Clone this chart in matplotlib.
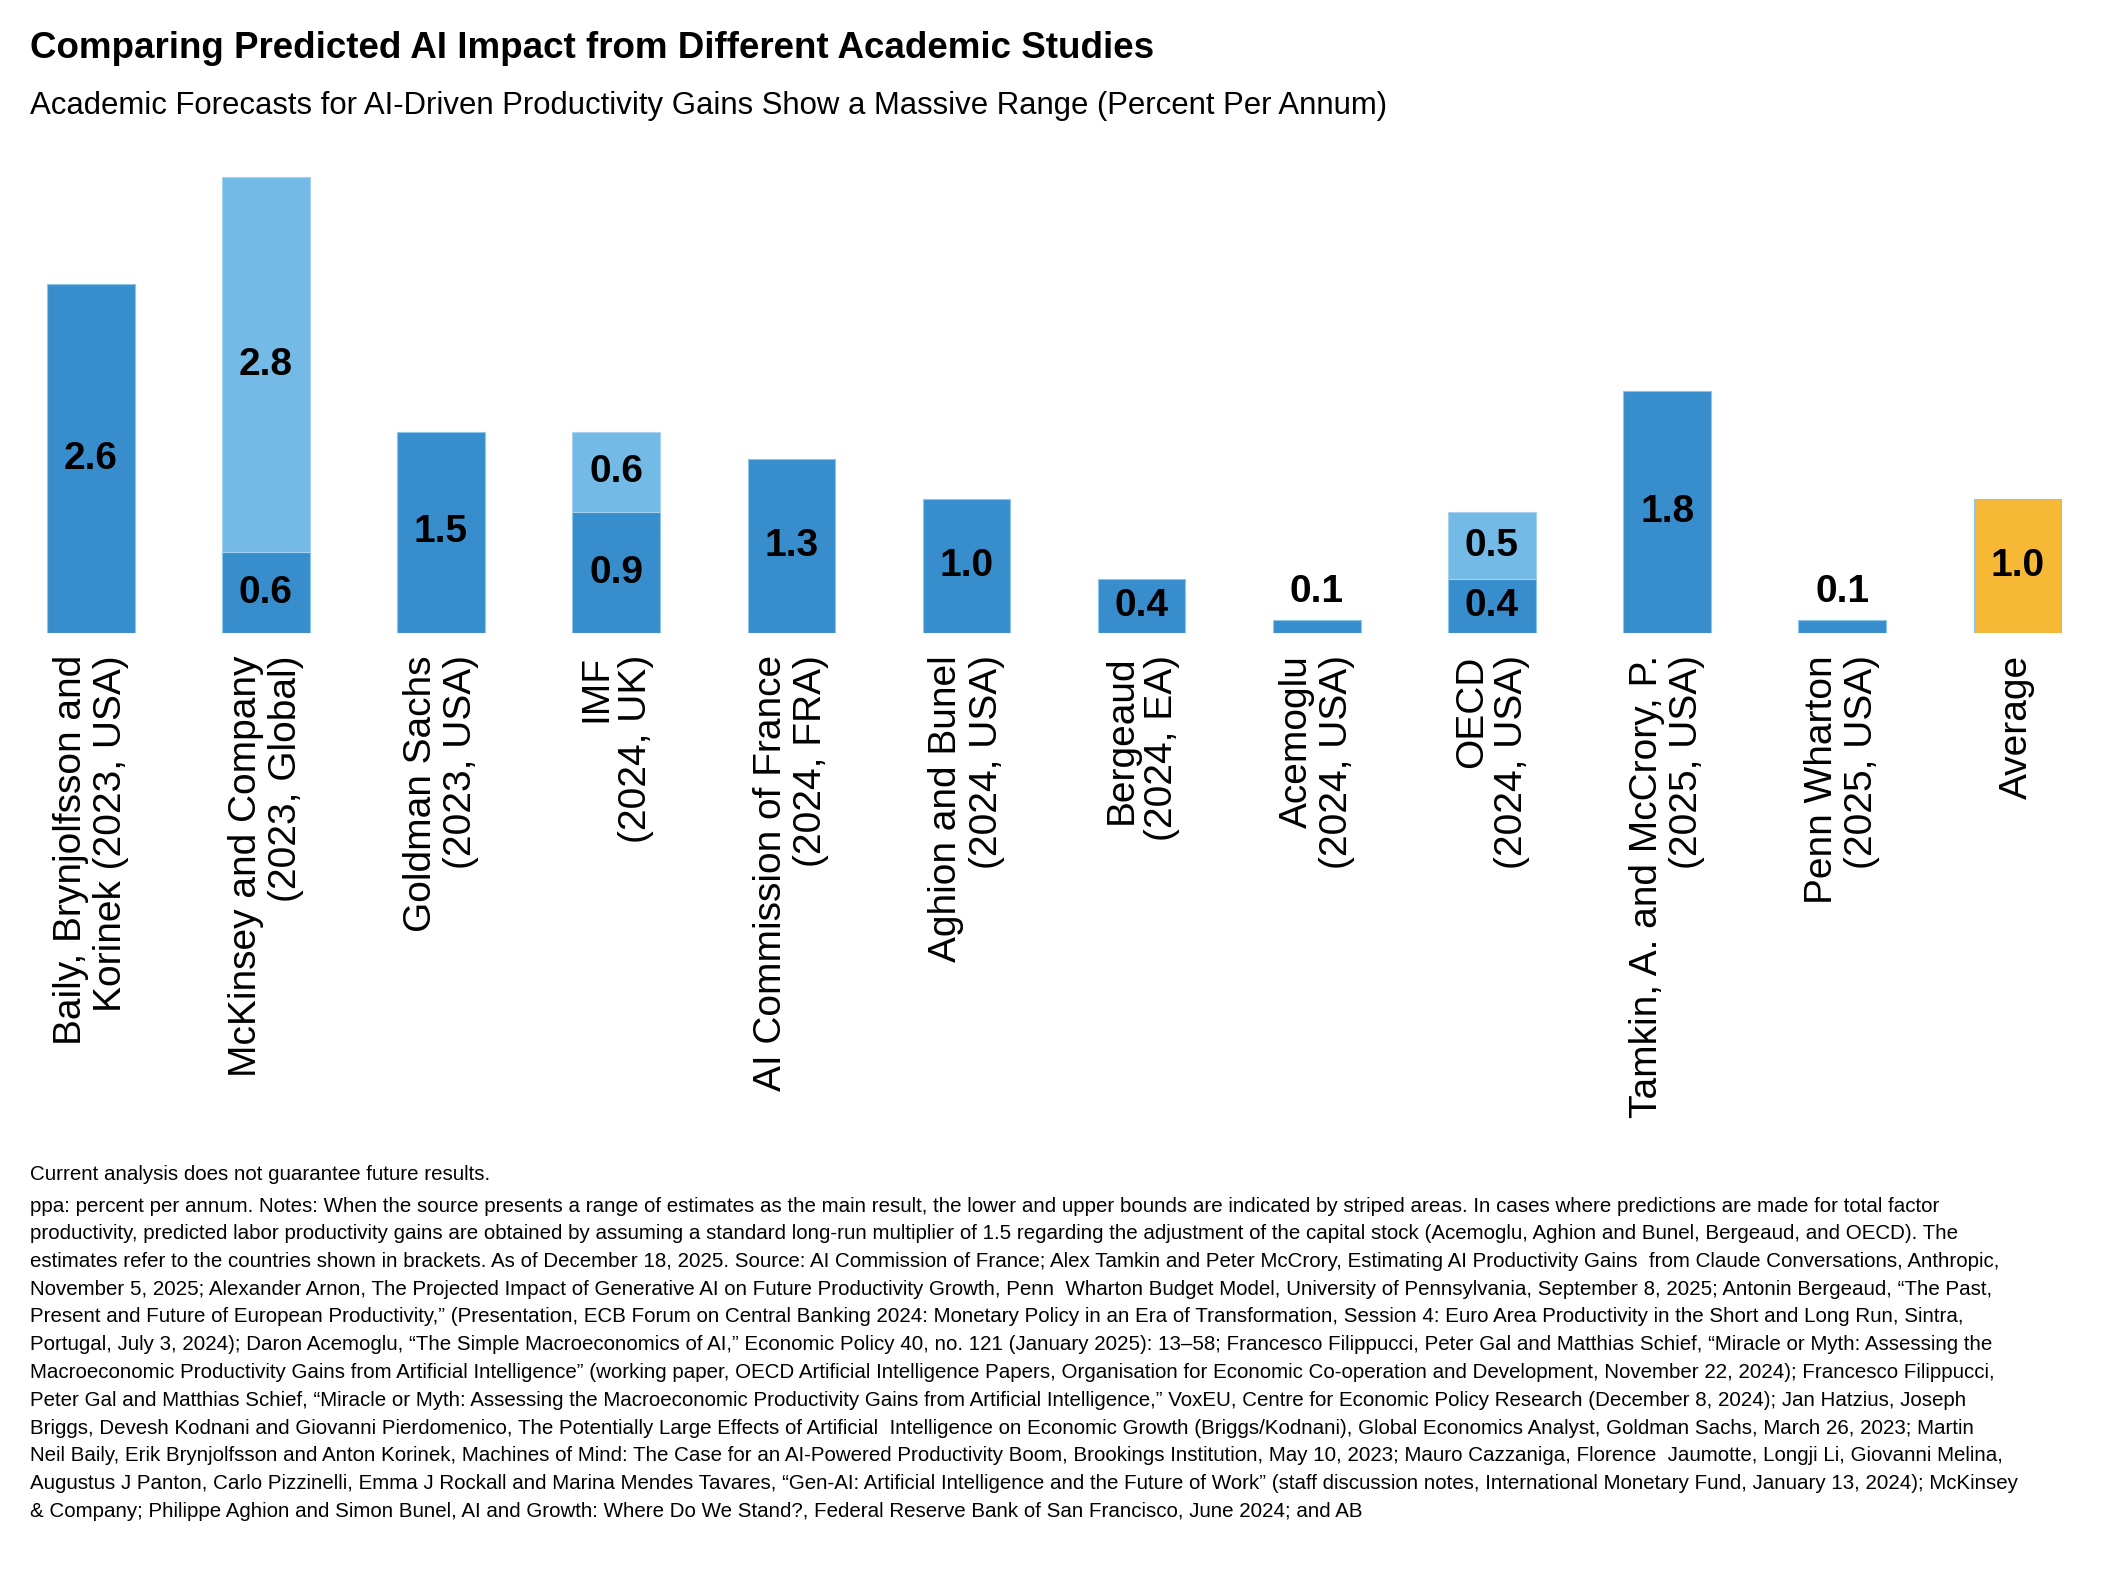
import matplotlib
matplotlib.use('Agg')
import matplotlib.pyplot as plt
import numpy as np

# Studies shown on the x axis (two-line labels)
studies = [
    "Baily, Brynjolfsson and\nKorinek (2023, USA)",
    "McKinsey and Company\n(2023, Global)",
    "Goldman Sachs\n(2023, USA)",
    "IMF\n(2024, UK)",
    "AI Commission of France\n(2024, FRA)",
    "Aghion and Bunel\n(2024, USA)",
    "Bergeaud\n(2024, EA)",
    "Acemoglu\n(2024, USA)",
    "OECD\n(2024, USA)",
    "Tamkin, A. and McCrory, P.\n(2025, USA)",
    "Penn Wharton\n(2025, USA)",
    "Average",
]

# Lower (or only) estimate, and extra range on top where a range is given
lower = [2.6, 0.6, 1.5, 0.9, 1.3, 1.0, 0.4, 0.1, 0.4, 1.8, 0.1, 1.0]
upper = [0.0, 2.8, 0.0, 0.6, 0.0, 0.0, 0.0, 0.0, 0.5, 0.0, 0.0, 0.0]

DARK = '#388dcd'
LIGHT = '#74bae6'
AVG = '#f7b836'

footnote_lines = [
    "Current analysis does not guarantee future results.",
    "ppa: percent per annum. Notes: When the source presents a range of estimates as the main result, the lower and upper bounds are indicated by striped areas. In cases where predictions are made for total factor",
    "productivity, predicted labor productivity gains are obtained by assuming a standard long-run multiplier of 1.5 regarding the adjustment of the capital stock (Acemoglu, Aghion and Bunel, Bergeaud, and OECD). The",
    "estimates refer to the countries shown in brackets. As of December 18, 2025. Source: AI Commission of France; Alex Tamkin and Peter McCrory, Estimating AI Productivity Gains  from Claude Conversations, Anthropic,",
    "November 5, 2025; Alexander Arnon, The Projected Impact of Generative AI on Future Productivity Growth, Penn  Wharton Budget Model, University of Pennsylvania, September 8, 2025; Antonin Bergeaud, \u201cThe Past,",
    "Present and Future of European Productivity,\u201d (Presentation, ECB Forum on Central Banking 2024: Monetary Policy in an Era of Transformation, Session 4: Euro Area Productivity in the Short and Long Run, Sintra,",
    "Portugal, July 3, 2024); Daron Acemoglu, \u201cThe Simple Macroeconomics of AI,\u201d Economic Policy 40, no. 121 (January 2025): 13\u201358; Francesco Filippucci, Peter Gal and Matthias Schief, \u201cMiracle or Myth: Assessing the",
    "Macroeconomic Productivity Gains from Artificial Intelligence\u201d (working paper, OECD Artificial Intelligence Papers, Organisation for Economic Co-operation and Development, November 22, 2024); Francesco Filippucci,",
    "Peter Gal and Matthias Schief, \u201cMiracle or Myth: Assessing the Macroeconomic Productivity Gains from Artificial Intelligence,\u201d VoxEU, Centre for Economic Policy Research (December 8, 2024); Jan Hatzius, Joseph",
    "Briggs, Devesh Kodnani and Giovanni Pierdomenico, The Potentially Large Effects of Artificial  Intelligence on Economic Growth (Briggs/Kodnani), Global Economics Analyst, Goldman Sachs, March 26, 2023; Martin",
    "Neil Baily, Erik Brynjolfsson and Anton Korinek, Machines of Mind: The Case for an AI-Powered Productivity Boom, Brookings Institution, May 10, 2023; Mauro Cazzaniga, Florence  Jaumotte, Longji Li, Giovanni Melina,",
    "Augustus J Panton, Carlo Pizzinelli, Emma J Rockall and Marina Mendes Tavares, \u201cGen-AI: Artificial Intelligence and the Future of Work\u201d (staff discussion notes, International Monetary Fund, January 13, 2024); McKinsey",
    "& Company; Philippe Aghion and Simon Bunel, AI and Growth: Where Do We Stand?, Federal Reserve Bank of San Francisco, June 2024; and AB",
]

plt.rcParams['font.family'] = ['Liberation Sans', 'DejaVu Sans']

W, H = 2106, 1578
fig = plt.figure(figsize=(W / 100, H / 100), dpi=100)

# axes placed so the baseline sits at y=633 px and 1 unit = ~134 px
ax = fig.add_axes([0.0015, 1 - 633 / H, 0.998, 3.5 * 134.2 / H])

x = np.arange(len(studies))
lower = np.array(lower)
upper = np.array(upper)
base_colors = [DARK] * (len(studies) - 1) + [AVG]
ax.bar(x, lower, width=0.5, color=base_colors, edgecolor='#8cc4ea', linewidth=0.8)
has_range = upper > 0
ax.bar(x[has_range], upper[has_range], bottom=lower[has_range], width=0.5,
       color=LIGHT, edgecolor='#a6d2f0', linewidth=0.8)

# value labels: centred in each segment, or just above a very short bar
VAL_FS = 28
for i in range(len(studies)):
    if lower[i] < 0.3:
        ax.annotate(f"{lower[i]:.1f}", (x[i], lower[i]), xytext=(0, 10),
                    textcoords='offset pixels', ha='center', va='bottom',
                    fontsize=VAL_FS, fontweight='bold', color='black')
    else:
        ax.text(x[i], lower[i] / 2, f"{lower[i]:.1f}", ha='center', va='center',
                fontsize=VAL_FS, fontweight='bold', color='black')
    if upper[i] > 0:
        ax.text(x[i], lower[i] + upper[i] / 2, f"{upper[i]:.1f}", ha='center',
                va='center', fontsize=VAL_FS, fontweight='bold', color='black')

ax.set_xlim(-0.5, len(studies) - 0.5)
ax.set_ylim(0, 3.5)
ax.set_xticks(x)
ax.set_xticklabels(studies, rotation=90, ha='center', va='top',
                   multialignment='right', fontsize=28, linespacing=1.15)
ax.tick_params(axis='x', length=0, pad=16)
ax.set_yticks([])
for s in ax.spines.values():
    s.set_visible(False)

# titles
fig.text(30 / W, 1 - 48 / H, "Comparing Predicted AI Impact from Different Academic Studies",
         fontsize=26.5, fontweight='bold', va='center', ha='left')
fig.text(30 / W, 1 - 106 / H,
         "Academic Forecasts for AI-Driven Productivity Gains Show a Massive Range (Percent Per Annum)",
         fontsize=22.4, va='center', ha='left')

# footnote block
y0 = 1175
for k, line in enumerate(footnote_lines):
    yy = y0 if k == 0 else 1206 + (k - 1) * 27.75
    fig.text(30 / W, 1 - yy / H, line, fontsize=14.8, va='center', ha='left')

fig.savefig('out.png', dpi=100)
